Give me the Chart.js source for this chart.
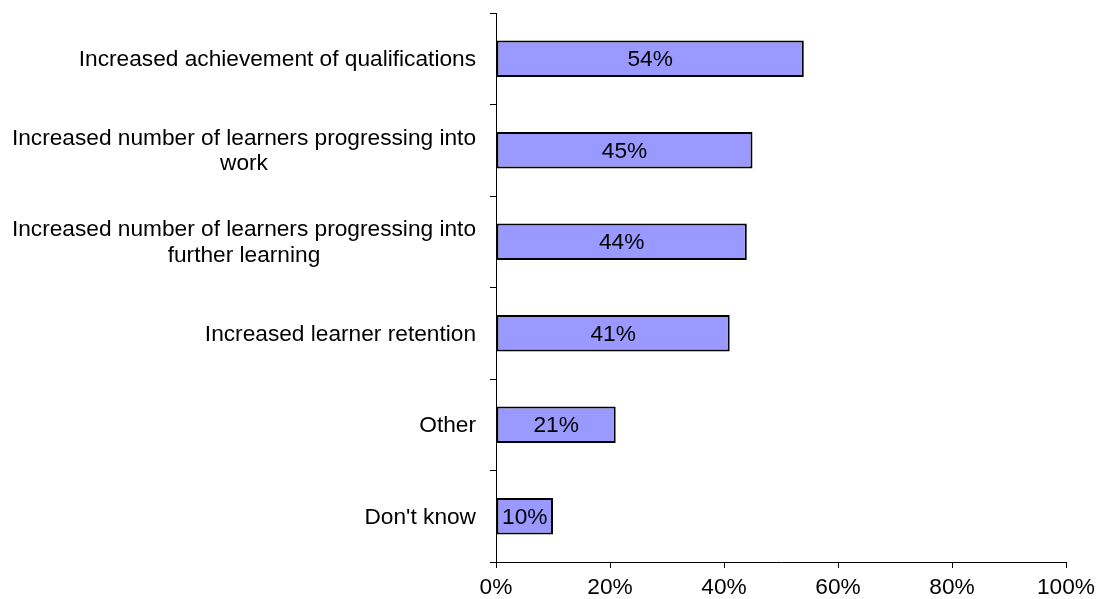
<!DOCTYPE html>
<html>
<head>
<meta charset="utf-8">
<title>Outcomes</title>
<script src="https://cdn.jsdelivr.net/npm/chart.js@4/dist/chart.umd.min.js"></script>
<style>
  html, body { margin: 0; padding: 0; background: #fff; }
  #wrap { width: 1096px; height: 599px; }
</style>
</head>
<body>
<div id="wrap"><canvas id="OutcomesBar"></canvas></div>
<script>
(function () {
  "use strict";

  // Categories (multi-line ones as arrays), values and axis ticks
  const categories = [
    ['Increased achievement of qualifications'],
    ['Increased number of learners progressing into', 'work'],
    ['Increased number of learners progressing into', 'further learning'],
    ['Increased learner retention'],
    ['Other'],
    ["Don't know"]
  ];
  const percentages = [54, 45, 44, 41, 21, 10];
  const xTicks = [0, 20, 40, 60, 80, 100];

  const font_family = '"Liberation Sans", Arial, Helvetica, sans-serif';
  const font_size   = 22.7;
  const bar_fill    = '#9999FF';
  const ink         = '#000000';

  Chart.defaults.font.family = font_family;
  Chart.defaults.font.size   = font_size;
  Chart.defaults.color       = ink;

  // Category labels: right edge against the axis, each block centred on its widest line
  const categoryLabels = {
    id: 'categoryLabels',
    afterDraw(chart) {
      const ctx = chart.ctx;
      const yScale = chart.scales.y;
      const right = yScale.right - 20;
      const lineHeight = 25.5;
      ctx.save();
      ctx.font = font_size + 'px ' + font_family;
      ctx.fillStyle = ink;
      ctx.textAlign = 'center';
      ctx.textBaseline = 'middle';
      categories.forEach(function (lines, i) {
        const widest = Math.max.apply(null, lines.map(function (l) { return ctx.measureText(l).width; }));
        const cx = right - widest / 2;
        const cy = yScale.getPixelForTick(i) + 1;
        lines.forEach(function (line, j) {
          ctx.fillText(line, cx, cy + (j - (lines.length - 1) / 2) * lineHeight);
        });
      });
      ctx.restore();
    }
  };

  // Percentage written in the middle of each bar
  const barValueLabels = {
    id: 'barValueLabels',
    afterDatasetsDraw(chart) {
      const ctx = chart.ctx;
      const meta = chart.getDatasetMeta(0);
      ctx.save();
      ctx.font = font_size + 'px ' + font_family;
      ctx.fillStyle = ink;
      ctx.textAlign = 'center';
      ctx.textBaseline = 'middle';
      meta.data.forEach(function (bar, i) {
        ctx.fillText(percentages[i] + '%', (bar.x + bar.base) / 2, bar.y + 1);
      });
      ctx.restore();
    }
  };

  const ctb = document.getElementById('OutcomesBar').getContext('2d');
  const OutcomesBar = new Chart(ctb, {
    type: 'bar',
    data: {
      labels: categories,
      datasets: [{
        data: percentages,
        backgroundColor: bar_fill,
        borderColor: ink,
        borderWidth: 2,
        borderSkipped: false,
        barPercentage: 0.4,
        categoryPercentage: 1
      }]
    },
    options: {
      indexAxis: 'y',
      responsive: true,
      maintainAspectRatio: false,
      animation: false,
      layout: {
        padding: { top: 13, right: 0, bottom: 0, left: 0 }
      },
      scales: {
        x: {
          min: 0,
          max: 100,
          afterBuildTicks: function (scale) {
            scale.ticks = xTicks.map(function (v) { return { value: v }; });
          },
          afterFit: function (scale) {
            scale.paddingRight = 30;
            scale.height = 37;
          },
          ticks: {
            padding: 6,
            maxRotation: 0,
            callback: function (v) { return v + '%'; }
          },
          grid: {
            drawOnChartArea: false,
            drawTicks: true,
            tickLength: 6,
            color: ink
          },
          border: { color: ink, width: 1 }
        },
        y: {
          ticks: { display: false },
          afterFit: function (scale) { scale.width = 496; },
          grid: {
            drawOnChartArea: false,
            drawTicks: true,
            tickLength: 6,
            color: ink
          },
          border: { color: ink, width: 1 }
        }
      },
      plugins: {
        legend: { display: false },
        tooltip: { enabled: false }
      }
    },
    plugins: [categoryLabels, barValueLabels]
  });
})();
</script>
</body>
</html>
